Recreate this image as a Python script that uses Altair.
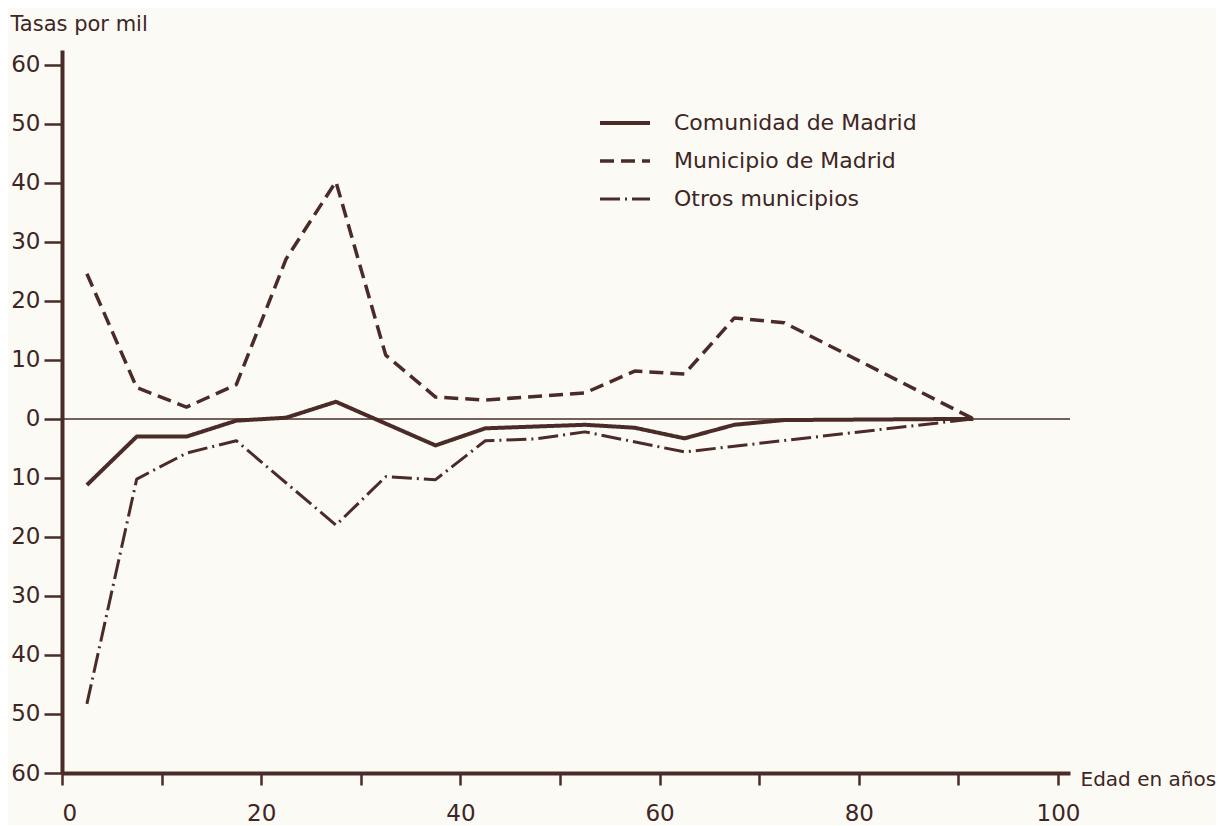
import altair as alt
import pandas as pd

INK = "#4a2b27"
TXT = "#3d2624"
BG = "#fcfaf5"
FONT = "DejaVu Sans"

series_names = ["Comunidad de Madrid", "Municipio de Madrid", "Otros municipios"]

# Comunidad de Madrid (solid)
com_age = [2.5, 7.5, 12.5, 17.5, 22.5, 27.5, 37.5, 42.5, 52.5, 57.5, 62.5, 67.5, 72.5, 91.5]
com_val = [-11.2, -3.0, -3.0, -0.3, 0.2, 2.9, -4.5, -1.6, -1.0, -1.5, -3.3, -1.0, -0.2, 0.0]

# Municipio de Madrid (dashed)
mun_age = [2.5, 7.5, 12.5, 17.5, 22.5, 27.5, 32.5, 37.5, 42.5, 52.5, 57.5, 62.5, 67.5, 72.5, 91.5]
mun_val = [24.6, 5.3, 2.0, 5.8, 27.1, 40.2, 10.8, 3.7, 3.2, 4.4, 8.1, 7.6, 17.1, 16.3, 0.0]

# Otros municipios (dash-dot)
otr_age = [2.5, 7.5, 12.5, 17.5, 27.5, 32.5, 37.5, 42.5, 47.5, 52.5, 62.5, 91.5]
otr_val = [-48.3, -10.2, -5.8, -3.7, -18.0, -9.8, -10.3, -3.7, -3.4, -2.2, -5.6, 0.0]

y_ticks = [-60, -50, -40, -30, -20, -10, 0, 10, 20, 30, 40, 50, 60]
x_ticks = [0, 10, 20, 30, 40, 50, 60, 70, 80, 90, 100]

rows = []
for name, ages, vals in [
    (series_names[0], com_age, com_val),
    (series_names[1], mun_age, mun_val),
    (series_names[2], otr_age, otr_val),
]:
    for i, (a, v) in enumerate(zip(ages, vals)):
        rows.append({"serie": name, "edad": a, "tasa": v, "orden": i})
df = pd.DataFrame(rows)

W, H = 1008, 723

x_scale = alt.Scale(domain=[0, 101.2], nice=False, zero=False)
y_scale = alt.Scale(domain=[-60, 62.5], nice=False, zero=False)

x_axis = alt.Axis(
    values=x_ticks,
    labelExpr="datum.value % 20 == 0 ? datum.value : ''",
    title="Edad en años",
    titleX=W + 10,
    titleY=6,
    titleAlign="left",
    titleBaseline="middle",
    titleAngle=0,
    tickSize=12,
    labelPadding=17,
    labelFontSize=23,
    grid=False,
)
y_axis = alt.Axis(
    values=y_ticks,
    labelExpr="abs(datum.value)",
    title="Tasas por mil",
    titleX=-52,
    titleY=-26,
    titleAlign="left",
    titleBaseline="middle",
    titleAngle=0,
    titleFontSize=21,
    tickSize=18,
    labelPadding=4,
    labelFontSize=23,
    grid=False,
)

zero = alt.Chart(pd.DataFrame({"y": [0]})).mark_rule(color=INK, strokeWidth=1.5).encode(
    y=alt.Y("y:Q", scale=y_scale, axis=y_axis)
)

lines = alt.Chart(df).mark_line(color=INK, strokeJoin="round", strokeCap="butt").encode(
    x=alt.X("edad:Q", scale=x_scale, axis=x_axis),
    y=alt.Y("tasa:Q", scale=y_scale, axis=y_axis),
    order="orden:Q",
    strokeDash=alt.StrokeDash(
        "serie:N",
        scale=alt.Scale(domain=series_names, range=[[1, 0], [14, 7], [20, 5, 2, 5]]),
        legend=alt.Legend(title=None),
    ),
    strokeWidth=alt.StrokeWidth(
        "serie:N",
        scale=alt.Scale(domain=series_names, range=[4, 3, 2]),
        legend=alt.Legend(title=None),
    ),
)

chart = (
    alt.layer(zero, lines)
    .properties(
        width=W,
        height=H,
        background=BG,
        padding={"left": 2, "top": 5, "right": 0, "bottom": 0},
    )
    .configure_view(stroke=None)
    .configure_axis(
        domainColor=INK,
        domainWidth=4,
        tickColor=INK,
        tickWidth=2.5,
        labelColor=TXT,
        labelFont=FONT,
        titleColor=TXT,
        titleFont=FONT,
        titleFontSize=20,
        titleFontWeight="normal",
    )
    .configure_legend(
        orient="none",
        legendX=536,
        legendY=63,
        symbolType="stroke",
        symbolSize=2500,
        symbolStrokeColor=INK,
        symbolFillColor=INK,
        labelFont=FONT,
        labelFontSize=22,
        labelColor=TXT,
        labelOffset=22,
        labelLimit=500,
        clipHeight=20,
        rowPadding=16,
    )
)

chart.save("out.html", embed_options={"renderer": "svg", "actions": False})
